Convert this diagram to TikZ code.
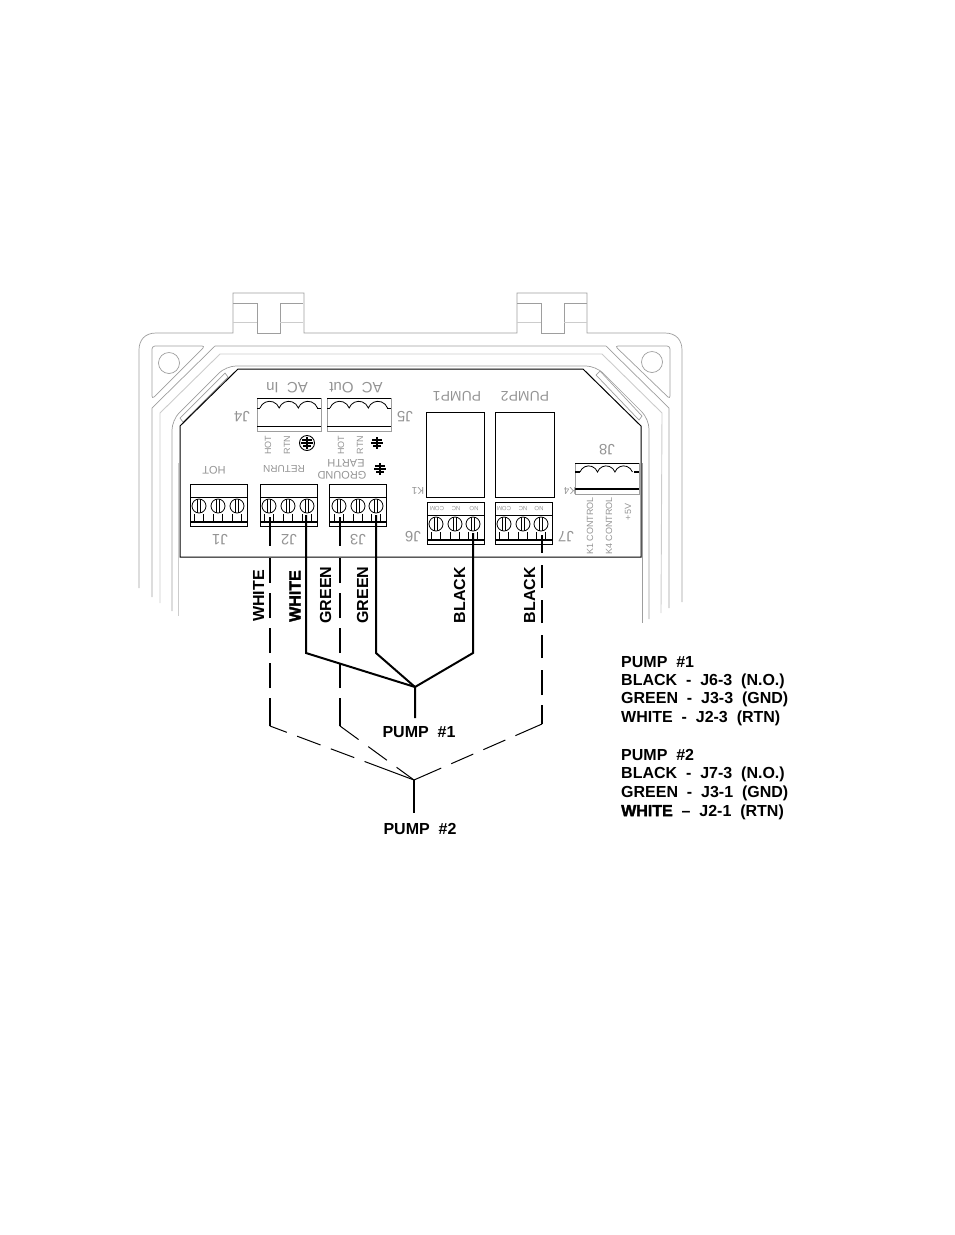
\documentclass[tikz,border=0pt]{standalone}
\usepackage{fontspec}
\setmainfont{Liberation Sans}
\newfontfamily\heavyfont[FakeBold=2]{Liberation Sans Bold}
\definecolor{boxline}{gray}{0.62}
\definecolor{paleline}{gray}{0.8}
\definecolor{silk}{gray}{0.58}
\tikzset{
  wall/.style={draw=boxline, line width=.7pt},
  palewall/.style={draw=paleline, line width=.9pt},
  board/.style={draw=black, line width=1pt},
  part/.style={draw=black, line width=.8pt},
  solidwire/.style={draw=black, line width=2pt},
  thinwire/.style={draw=black, line width=1.5pt},
  silktext/.style={text=silk, inner sep=0pt, font=\fontsize{#1}{#1}\selectfont},
  wirelabel/.style={inner sep=0pt, font=\fontsize{16}{16}\selectfont\bfseries, rotate=90},
  pumplabel/.style={inner sep=0pt, font=\fontsize{16}{16}\selectfont\bfseries},
  legendline/.style={inner sep=0pt, anchor=west, font=\fontsize{16}{16}\selectfont\bfseries},
  upfirst/.style={dash pattern=on 28pt off 10pt on 25pt off 10pt on 25pt off 10pt on 25pt off 10pt on 25pt},
}
\begin{document}
\begin{tikzpicture}[x=1pt,y=-1pt]
\useasboundingbox (0,0) rectangle (954,1235);
% enclosure
\draw[wall] (139,588)--(139,350) .. controls (139,340) and (145,333) .. (156,333)--(233,333)--(233,293)--(304,293)--(304,333)--(517,333)--(517,293)--(587,293)--(587,333)--(665,333) .. controls (676,333) and (682,340) .. (682,350)--(682,602);
\foreach \tabx in {233,517}{
  \draw[wall] (\tabx,303)--(\tabx+24,303)--(\tabx+24,333)--(\tabx+47,333)--(\tabx+47,303)--(\tabx+70,303);
  \draw[palewall] (\tabx,322)--(\tabx+24,322) (\tabx+47,322)--(\tabx+70,322);
}
\draw[wall] (152,597)--(152,408)--(215,346)--(606,346)--(669,408)--(669,608);
\draw[palewall] (160,603)--(160,413)--(220,354)--(602,354)--(662,413)--(661,613);
\draw[wall, rounded corners=10pt] (172,611)--(172,420)--(226,366)--(596,366)--(649,419)--(649,619);
\draw[palewall] (178,463)--(178,616);
\draw[wall] (642,463)--(642,623);
% corner lugs
\draw[wall, rounded corners=3pt] (152,346)--(205,346)--(152,399)--cycle;
\draw[wall, rounded corners=3pt] (615,346)--(670,346)--(670,399)--cycle;
\draw[wall] (169,363) circle (10.5);
\draw[wall] (652,362) circle (10.5);
\draw[wall] (180,418)--(225,373)--(228,377)--(183,422)--cycle;
\draw[wall] (596,375)--(600,371)--(642,416)--(639,420)--cycle;
% board
\draw[board] (180,426)--(238,369)--(583,369)--(641,426)--(641,557)--(180,557)--cycle;
% power connectors
\foreach \cx in {257,327}{
  \draw[wall] (\cx,398) rectangle (\cx+64,431);
  \draw[part] (\cx,398)--(\cx+64,398) (\cx,426)--(\cx+64,426) (\cx,408)--(\cx+3,408) (\cx+60,408)--(\cx+64,408);
  \draw[part] (\cx+3,408) arc(-160:-20:10.2) arc(-160:-20:10.2) arc(-160:-20:10.2);
}
\draw[wall] (575,463) rectangle (639,494);
\draw[part] (575,463)--(639,463);
\draw[black, line width=1.4pt] (575,489)--(639,489) (575,472)--(580,472) (634,472)--(639,472);
\draw[part] (580,472) arc(-160:-20:9.3) arc(-160:-20:9.3) arc(-160:-20:9.3);
% relays
\draw[part] (426,412) rectangle (484,497);
\draw[part] (495,412) rectangle (554,497);
% terminal blocks
\foreach \bx/\by/\sone/\stwo/\sthree in {190/484/199/218/237, 260/484/269/288/307, 329/484/339/358/376, 427/502/436/455/473, 495/502/504/523/541}{
  \draw[part] (\bx,\by) rectangle (\bx+57,\by+42);
  \draw[part] (\bx,\by+13)--(\bx+57,\by+13);
  \draw[black, line width=1.6pt] (\bx,\by+38)--(\bx+57,\by+38);
  \foreach \sx in {\sone,\stwo,\sthree}{
    \draw[part, fill=white] (\sx,\by+22) circle (7);
    \draw[black, line width=.9pt] (\sx-1.5,\by+15)--(\sx-1.5,\by+29) (\sx+1.5,\by+15)--(\sx+1.5,\by+29);
    \draw[black, line width=1.4pt] (\sx-4.5,\by+30)--(\sx-4.5,\by+38);
    \draw[black, line width=.7pt] (\sx+4.5,\by+30)--(\sx+4.5,\by+38);
  }
}
% earth marks
\foreach \ex/\ey in {307/443, 377/443, 380/469}{
  \draw[black, line width=1.2pt] (\ex,\ey-6)--(\ex,\ey+6) (\ex-6,\ey)--(\ex+6,\ey) (\ex-4,\ey+3)--(\ex+4,\ey+3) (\ex-5,\ey-3)--(\ex+5,\ey-3);
}
\draw[black, line width=.9pt] (307,443) circle (7.5);
% silk screen
\node[silktext=15, rotate=180] (acin) at (287,388) {AC~~In};
\node[silktext=15, rotate=180] (acout) at (356,388) {AC~~Out};
\node[silktext=15, rotate=180] (lblj4) at (242,417) {J4};
\node[silktext=15, rotate=180] (lblj5) at (405,417) {J5};
\node[silktext=9, rotate=90] (hotin) at (268,445) {HOT};
\node[silktext=9, rotate=90] (rtnin) at (287,445) {RTN};
\node[silktext=9, rotate=90] (hotout) at (341,445) {HOT};
\node[silktext=9, rotate=90] (rtnout) at (360,445) {RTN};
\node[silktext=11, rotate=180] (hotj1) at (214,470) {HOT};
\node[silktext=10, rotate=180] (returnj2) at (284,469) {RETURN};
\node[silktext=11, rotate=180] (earthj3) at (346,463) {EARTH};
\node[silktext=11, rotate=180] (groundj3) at (342,475) {GROUND};
\node[silktext=15, rotate=180] (lblj1) at (220,540) {J1};
\node[silktext=15, rotate=180] (lblj2) at (289,540) {J2};
\node[silktext=15, rotate=180] (lblj3) at (358,540) {J3};
\node[silktext=15, rotate=180] (lblj6) at (413,537) {J6};
\node[silktext=15, rotate=180] (lblj7) at (566,537) {J7};
\node[silktext=15, rotate=180] (lblj8) at (607,450) {J8};
\node[silktext=14, rotate=180] (pumpone) at (457,396) {PUMP1};
\node[silktext=14, rotate=180] (pumptwo) at (525,396) {PUMP2};
\node[silktext=10, rotate=180] (lblk1) at (418,491) {K1};
\node[silktext=10, rotate=180] (lblk4) at (570,491) {K4};
\node[silktext=6, rotate=180] (comone) at (437,509) {COM};
\node[silktext=6, rotate=180] (ncone) at (456,509) {NC};
\node[silktext=6, rotate=180] (noone) at (474,509) {NO};
\node[silktext=6, rotate=180] (comtwo) at (504,509) {COM};
\node[silktext=6, rotate=180] (nctwo) at (523,509) {NC};
\node[silktext=6, rotate=180] (notwo) at (539,509) {NO};
\node[silktext=9, rotate=90] (ctlone) at (590,526) {K1 CONTROL};
\node[silktext=9, rotate=90] (ctltwo) at (609,526) {K4 CONTROL};
\node[silktext=9, rotate=90] (fivev) at (628,512) {+5V};
% wire labels
\node[wirelabel] (whiteone) at (258.5,596) {WHITE};
\node[wirelabel, font=\fontsize{16}{16}\selectfont\heavyfont] (whitetwo) at (295,596) {WHITE};
\node[wirelabel] (greenone) at (325.5,595) {GREEN};
\node[wirelabel] (greentwo) at (362.5,595) {GREEN};
\node[wirelabel] (blackone) at (459.5,595) {BLACK};
\node[wirelabel] (blacktwo) at (529.5,595) {BLACK};
\node[pumplabel] (pumpa) at (419,732) {PUMP~~\#1};
\node[pumplabel] (pumpb) at (420,829) {PUMP~~\#2};
% pump 1 wires
\coordinate (joina) at (415,687);
\coordinate (joinb) at (414,780);
\coordinate (j2c) at (306,515);
\coordinate (j2d) at (306,653);
\coordinate (j3c) at (376,515);
\coordinate (j3d) at (376,653);
\coordinate (j6c) at (473,533);
\coordinate (j6d) at (473,653);
\coordinate (tailb) at (415,718);
\draw[solidwire] (j2c)--(j2d)--(joina);
\draw[solidwire] (j3c)--(j3d)--(joina);
\draw[solidwire] (j6c)--(j6d)--(joina)--(tailb);
% pump 2 wires
\coordinate (j2a) at (270,517);
\coordinate (j2b) at (270,546);
\coordinate (j2e) at (270,558);
\coordinate (j2f) at (270,726);
\coordinate (j3a) at (340,517);
\coordinate (j3b) at (340,546);
\coordinate (j3e) at (340,558);
\coordinate (j3f) at (340,726);
\coordinate (j7a) at (542,535);
\coordinate (j7b) at (542,553);
\coordinate (j7e) at (542,565);
\coordinate (j7f) at (542,724);
\coordinate (tailc) at (414,813);
\draw[thinwire] (j2a)--(j2b);
\draw[thinwire] (j3a)--(j3b);
\draw[thinwire] (j7a)--(j7b);
\draw[thinwire, upfirst] (j2f)--(j2e);
\draw[thinwire, upfirst] (j3f)--(j3e);
\draw[thinwire, dash pattern=on 19pt off 10pt on 25pt off 12pt on 23pt off 12pt on 23pt off 12pt on 23pt] (j7f)--(j7e);
\draw[black, line width=1pt, dash pattern=on 18pt off 11pt on 25pt off 11pt on 25pt off 11pt on 60pt] (j2f)--(joinb);
\draw[black, line width=1pt, dash pattern=on 23pt off 12pt on 23pt off 12pt on 30pt] (j3f)--(joinb);
\draw[black, line width=1pt, dash pattern=on 29pt off 11pt on 24pt off 11pt on 24pt off 11pt on 30pt] (j7f)--(joinb);
\draw[solidwire] (joinb)--(tailc);
% legend
\node[legendline] (leg1) at (621,662) {PUMP~~\#1};
\node[legendline] (leg2) at (621,681) {BLACK~~-~~J6-3~~(N.O.)};
\node[legendline] (leg3) at (621,699) {GREEN~~-~~J3-3~~(GND)};
\node[legendline] (leg4) at (621,718) {WHITE~~-~~J2-3~~(RTN)};
\node[legendline] (leg5) at (621,755) {PUMP~~\#2};
\node[legendline] (leg6) at (621,774) {BLACK~~-~~J7-3~~(N.O.)};
\node[legendline] (leg7) at (621,793) {GREEN~~-~~J3-1~~(GND)};
\node[legendline] (leg8) at (621,812) {{\heavyfont WHITE}~~--~~J2-1~~(RTN)};
\end{tikzpicture}
\end{document}
